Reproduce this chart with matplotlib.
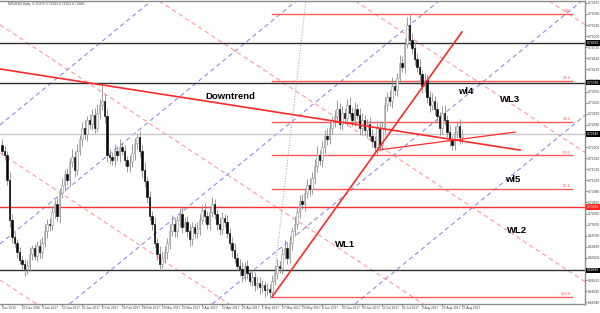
import numpy as np
import matplotlib
matplotlib.use("Agg")
from matplotlib import pyplot as plt
from matplotlib.transforms import blended_transform_factory

# NZDUSD daily closes, 12 Dec 2016 .. 25 Aug 2017
closes = [
    .7200, .7190, .7125, .7020,
    .6975, .6960, .6935, .6915, .6905, .6890, .6900, .6930, .6945, .6925, .6950, .6935,
    .6960, .6990, .7010, .7005, .7040, .7060, .7030, .7090,
    .7110, .7140, .7125, .7170, .7185, .7150, .7200, .7230,
    .7260, .7245, .7280, .7270, .7295, .7260, .7300, .7320,
    .7330, .7290, .7190,
    .7185, .7175, .7200, .7190, .7210, .7200, .7175, .7160, .7170, .7195, .7220, .7235, .7200, .7150,
    .7120, .7080, .7030, .7010, .6960, .6930, .6905, .6920,
    .6935, .6960, .6990, .7010, .6990, .7020, .7035, .7000,
    .7015, .6990, .6970, .7000, .6985, .6995, .7020, .7045, .7030, .7010,
    .7040, .7060, .7035, .7010, .6995, .7025, .7015, .6985, .6960, .6940,
    .6920, .6900, .6890, .6875, .6900, .6880, .6860, .6870, .6850, .6855, .6845,
    .6850, .6835, .6840, .6830, .6860,
    .6880, .6900, .6895, .6930, .6945, .6920, .6960, .6990, .7010, .7040, .7070,
    .7060, .7090, .7110, .7100, .7130, .7160, .7190, .7175, .7210, .7240, .7230, .7260, .7280,
    .7290, .7310, .7270, .7300, .7285, .7320, .7300, .7280, .7310, .7295, .7260, .7280,
    .7255, .7270, .7240, .7225, .7210, .7260,
    .7215, .7260, .7320, .7340, .7330, .7370, .7360, .7390, .7430, .7420, .7480, .7530,
    .7490, .7470, .7440,
    .7420, .7400, .7370, .7385, .7340, .7320, .7330,
    .7310, .7290, .7260, .7300, .7280, .7250, .7230, .7215, .7250, .7265, .7235, .7244,
]
first_open = 0.7215

# wick lengths in pips above / below the body
up_pips = [
    15, 12, 10, 20, 15, 12, 10, 14, 10, 12, 15, 18, 10, 12, 15, 20, 14, 18, 12, 15,
    16, 12, 20, 14, 18, 10, 15, 12, 20, 14, 18, 12, 15, 20, 12, 16, 14, 18, 22, 15,
    42, 18, 20, 15, 12, 18, 14, 20, 10, 16, 12, 18, 22, 14, 10, 18, 15, 20, 12, 16,
    14, 18, 12, 20, 15, 16, 12, 18, 22, 14, 10, 16, 18, 12, 14, 20, 15, 12, 18, 16,
    14, 18, 12, 16, 20, 14, 12, 18, 15, 10, 16, 12, 14, 18, 12, 16, 20, 10, 14, 12,
    16, 12, 18, 14, 12, 10, 14, 12, 16, 20, 18, 12, 16, 22, 14, 18, 12, 20, 16, 14,
    18, 12, 16, 20, 14, 18, 22, 12, 16, 14, 20, 18, 12, 16, 22, 14, 18, 12, 16, 20,
    14, 18, 12, 16, 20, 14, 12, 18, 16, 14, 12, 18, 16, 20, 14, 18, 22, 16, 14, 20,
    18, 16, 20, 28, 18, 14, 16, 20, 12, 18, 14, 16, 20, 14, 18, 12, 16, 20, 14, 18,
    12, 16, 14, 18, 12,
]
down_pips = [
    12, 15, 14, 18, 16, 12, 14, 10, 15, 18, 12, 14, 16, 10, 12, 14, 16, 12, 18, 14,
    12, 16, 14, 18, 12, 15, 14, 16, 12, 18, 14, 12, 16, 14, 18, 12, 15, 14, 12, 16,
    14, 16, 18, 20, 12, 14, 16, 18, 12, 15, 14, 16, 12, 18, 14, 16, 20, 14, 16, 12,
    18, 14, 16, 20, 12, 14, 18, 16, 12, 15, 14, 18, 16, 12, 14, 18, 16, 12, 14, 16,
    12, 18, 14, 16, 12, 14, 18, 16, 12, 15, 14, 16, 18, 14, 12, 16, 18, 14, 16, 12,
    14, 16, 12, 18, 14, 16, 12, 14, 12, 12, 16, 14, 18, 12, 16, 14, 18, 12, 14, 16,
    12, 16, 14, 18, 12, 16, 14, 12, 18, 16, 14, 12, 16, 18, 14, 12, 16, 14, 18, 12,
    16, 14, 12, 18, 16, 14, 20, 12, 16, 14, 18, 16, 12, 14, 16, 12, 18, 14, 16, 12,
    14, 16, 12, 14, 18, 16, 14, 18, 20, 16, 14, 18, 12, 16, 14, 18, 16, 12, 14, 16,
    14, 12, 16, 18, 14,
]

date_labels = ["Dec 2016", "22 Dec 2016", "3 Jan 2017", "13 Jan 2017", "25 Jan 2017",
               "6 Feb 2017", "16 Feb 2017", "28 Feb 2017", "10 Mar 2017", "22 Mar 2017",
               "3 Apr 2017", "13 Apr 2017", "25 Apr 2017", "5 May 2017", "17 May 2017",
               "29 May 2017", "8 Jun 2017", "20 Jun 2017", "30 Jun 2017", "12 Jul 2017",
               "24 Jul 2017", "3 Aug 2017", "15 Aug 2017", "25 Aug 2017"]

fib_names = ["0.0", "23.6", "38.2", "50.0", "61.8", "100.0"]
fib_ratios = [0.0, 0.236, 0.382, 0.5, 0.618, 1.0]
fib_high, fib_low = 0.7558, 0.6818
fib_bars = (108, 228)

black_levels = [0.7482, 0.7378, 0.6888]
red_level = 0.7053
last_price = 0.7244

downtrend = ([-0.8, 207.2], [0.7414, 0.7202])
wl1 = ([108, 184], [0.6818, 0.7511])
wl5 = ([150.4, 205.2], [0.7202, 0.7249])
fib_dotted = ([108, 121.6], [0.6818, 0.7595])

pink_slope = -0.000431
pink_starts = [0.8535, 0.8201, 0.7863, 0.7526, 0.7191, 0.6859]
blue_slope = 0.000536
blue_starts = [0.7272, 0.6961, 0.6655, 0.6349, 0.6043]

labels = [("Downtrend", 81.2, 0.7341), ("WL1", 133.2, 0.6954), ("WL2", 202.0, 0.6993),
          ("WL3", 199.2, 0.7333), ("wl4", 182.4, 0.7354), ("wl5", 201.2, 0.7124)]

plt.rcParams['font.family'] = ['Liberation Sans', 'DejaVu Sans']

closes = np.array(closes)
opens = np.concatenate([[first_open], closes[:-1]])
highs = np.maximum(opens, closes) + np.array(up_pips) / 10000
lows = np.minimum(opens, closes) - np.array(down_pips) / 10000
bars = np.arange(len(closes))

fig = plt.figure(figsize=(6, 3.13), dpi=100)
ax = fig.add_axes([0, 9 / 313, 585 / 600, 303 / 313])
ax.set_xlim(-0.8, 233.2)
ax.set_ylim(0.67996, 0.75918)

# channel lines
for p in pink_starts:
    ax.axline((0, p), slope=pink_slope, color='#ff9a9a', lw=0.8, ls=(0, (4, 3)), zorder=1)
for p in blue_starts:
    ax.axline((0, p), slope=blue_slope, color='#8c8ce6', lw=0.8, ls=(0, (4, 3)), zorder=1)
ax.plot(*fib_dotted, color='#a0a0a0', lw=0.7, ls=':', zorder=1)

# horizontal levels
for lv in black_levels:
    ax.axhline(lv, color='#303030', lw=1.0, zorder=1)
ax.axhline(red_level, color='#ff3030', lw=1.0, zorder=1)
ax.axhline(last_price, color='#c8c8c8', lw=1.0, zorder=1)

# fibonacci
for name, r in zip(fib_names, fib_ratios):
    lv = fib_high - r * (fib_high - fib_low)
    ax.plot(fib_bars, [lv, lv], color='#ff5a5a', lw=1.0, zorder=2)
    ax.text(fib_bars[1] - 0.5, lv + 0.0002, name, color='#ff5a5a', fontsize=3,
            ha='right', va='bottom')

# candles
bull = closes >= opens
ax.vlines(bars, lows, highs, color='#8c8c8c', lw=0.6, zorder=3)
ax.bar(bars[bull], (closes - opens)[bull], bottom=opens[bull], width=0.6,
       color='white', edgecolor='#8c8c8c', lw=0.4, zorder=4)
ax.bar(bars[~bull], (opens - closes)[~bull], bottom=closes[~bull], width=0.6,
       color='black', edgecolor='black', lw=0.4, zorder=4)

# trend lines
ax.plot(*downtrend, color='#ff2a2a', lw=1.2, zorder=5)
ax.plot(*wl1, color='#ff2a2a', lw=1.2, zorder=5)
ax.plot(*wl5, color='#ff2a2a', lw=0.9, zorder=5)

for txt, bx, py in labels:
    ax.text(bx, py, txt, fontsize=6.8, fontweight='bold', ha='left', va='center', zorder=6)

ax.text(2.5, 0.7584, "NZDUSD,Daily  0.72376 0.72503 0.72302 0.72440", fontsize=2.4,
        color='#404040', va='center')

# axes styling
ax.spines['left'].set_visible(False)
for s in ['top', 'bottom', 'right']:
    ax.spines[s].set_color('#8c8c8c')
    ax.spines[s].set_linewidth(1.0)

ax.yaxis.tick_right()
yt = np.arange(0.68040, 0.7590, 0.0029)
ax.set_yticks(yt)
ax.set_yticklabels(["%.5f" % v for v in yt])
ax.tick_params(axis='y', labelsize=2.4, length=1.5, width=0.5, pad=0.5, colors='#404040')

ax.set_xticks(bars[::8])
ax.set_xticklabels([])
ax.tick_params(axis='x', length=1.5, width=0.5, colors='#404040')
for b, lab in zip(bars[::8], date_labels):
    ax.text(b, -0.006, lab, transform=blended_transform_factory(ax.transData, ax.transAxes),
            fontsize=2.3, color='#404040', ha='left', va='top')

tr = blended_transform_factory(ax.transAxes, ax.transData)
for lv, col in [(black_levels[0], 'black'), (black_levels[1], 'black'),
                (black_levels[2], 'black'), (last_price, 'black'), (red_level, '#ff2020')]:
    ax.text(1.003, lv, "%.5f" % lv, transform=tr, fontsize=2.4, color='white', va='center',
            ha='left', bbox=dict(boxstyle='square,pad=0.2', fc=col, ec='none'), zorder=7)

fig.savefig("out.png", dpi=100)
